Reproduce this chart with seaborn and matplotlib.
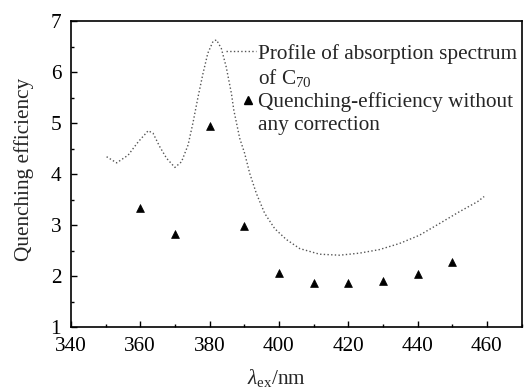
import numpy as np
import pandas as pd
import matplotlib
matplotlib.use("Agg")
import matplotlib.pyplot as plt
import seaborn as sns
from matplotlib.ticker import MultipleLocator
from matplotlib.lines import Line2D
from matplotlib.legend_handler import HandlerLine2D

# Absorption-spectrum profile (dotted curve)
abs_wavelength = [350.3, 353.2, 356.5, 359.4, 362.3, 363.7, 365.6, 367.6, 370.0, 371.9,
                  373.8, 375.2, 376.7, 378.1, 379.5, 381.0, 382.0, 383.4, 384.8, 386.3,
                  387.0, 388.7, 390.1, 391.6, 393.5, 395.9, 398.8, 402.1, 406.0, 411.7,
                  417.5, 423.2, 429.0, 434.8, 440.5, 446.3, 452.0, 457.3, 459.2]
abs_profile = [4.34, 4.22, 4.37, 4.63, 4.85, 4.80, 4.54, 4.31, 4.13, 4.24,
               4.57, 5.00, 5.52, 5.97, 6.37, 6.60, 6.63, 6.46, 6.10, 5.58,
               5.25, 4.70, 4.41, 4.01, 3.62, 3.23, 2.93, 2.72, 2.54, 2.43,
               2.41, 2.45, 2.52, 2.64, 2.80, 3.03, 3.26, 3.46, 3.56]

# Quenching efficiency (triangles)
q_wavelength = [360, 370, 380, 390, 400, 410, 420, 430, 440, 450]
q_efficiency = [3.34, 2.82, 4.95, 2.98, 2.07, 1.87, 1.87, 1.91, 2.04, 2.27]

x_ticks = [340, 360, 380, 400, 420, 440, 460]
y_ticks = [1, 2, 3, 4, 5, 6, 7]

label_profile = ["Profile of absorption spectrum", "of C$_{70}$"]
label_quench = ["Quenching-efficiency without", "any correction"]

sns.set_theme(style="ticks")
plt.rcParams["font.family"] = ["Liberation Serif", "DejaVu Serif"]
plt.rcParams["mathtext.fontset"] = "custom"
plt.rcParams["mathtext.rm"] = "Liberation Serif"
plt.rcParams["mathtext.it"] = "Liberation Serif:italic"
FS = 15.3
plt.rcParams["font.size"] = FS

df_abs = pd.DataFrame({"wl": abs_wavelength, "val": abs_profile})
df_q = pd.DataFrame({"wl": q_wavelength, "val": q_efficiency})

fig = plt.figure(figsize=(5.29, 3.89), dpi=100)
ax = fig.add_axes([0.134, 0.159, 0.852, 0.787])

sns.lineplot(data=df_abs, x="wl", y="val", ax=ax, color="#555555",
             linestyle=":", linewidth=1.0, sort=False)
sns.scatterplot(data=df_q, x="wl", y="val", ax=ax, marker="^", color="black",
                s=32, edgecolor="black", linewidth=0.5, zorder=3)

ax.set_xlim(340, 470)
ax.set_ylim(1, 7)
ax.set_xticks(x_ticks)
ax.set_yticks(y_ticks)
ax.xaxis.set_minor_locator(MultipleLocator(10))
ax.yaxis.set_minor_locator(MultipleLocator(0.5))
ax.tick_params(axis="both", which="both", direction="in", labelsize=FS,
               colors="black", top=False, right=False)
ax.tick_params(axis="x", which="major", length=4, width=1, pad=7)
ax.tick_params(axis="y", which="major", length=4, width=1, pad=7)
ax.tick_params(which="minor", length=2.5, width=1)
for sp in ax.spines.values():
    sp.set_visible(True)
    sp.set_linewidth(1.2)
    sp.set_color("black")

ax.set_xlabel(r"$\mathit{\lambda}_{\rm ex}$/nm", fontsize=FS)
ax.xaxis.set_label_coords(0.457, -0.13)
ax.set_ylabel("Quenching efficiency", fontsize=FS)
ax.yaxis.set_label_coords(-0.081, 0.516)


class ShiftedMarkerHandler(HandlerLine2D):
    def get_xdata(self, legend, xdescent, ydescent, width, height, fontsize):
        xdata, xdata_marker = super().get_xdata(legend, xdescent, ydescent,
                                                width, height, fontsize)
        shift = 0.22 * width
        xdata = np.asarray(xdata, dtype=float) + shift
        xdata_marker = np.asarray(xdata_marker, dtype=float) + shift
        return xdata, xdata_marker


blank = Line2D([], [], linestyle="none", marker=None)
h_line = Line2D([], [], color="#555555", linestyle=":", linewidth=1.0)
h_tri = Line2D([], [], color="black", linestyle="none", marker="^", markersize=6)
leg = ax.legend([h_line, blank, h_tri, blank],
                label_profile + label_quench,
                handler_map={h_tri: ShiftedMarkerHandler(numpoints=1)},
                loc="upper left", bbox_to_anchor=(0.345, 0.925), frameon=False,
                fontsize=FS, handlelength=1.4, handletextpad=0.1,
                labelspacing=0.15, borderpad=0, borderaxespad=0)

fig.savefig("out.png", dpi=100)
